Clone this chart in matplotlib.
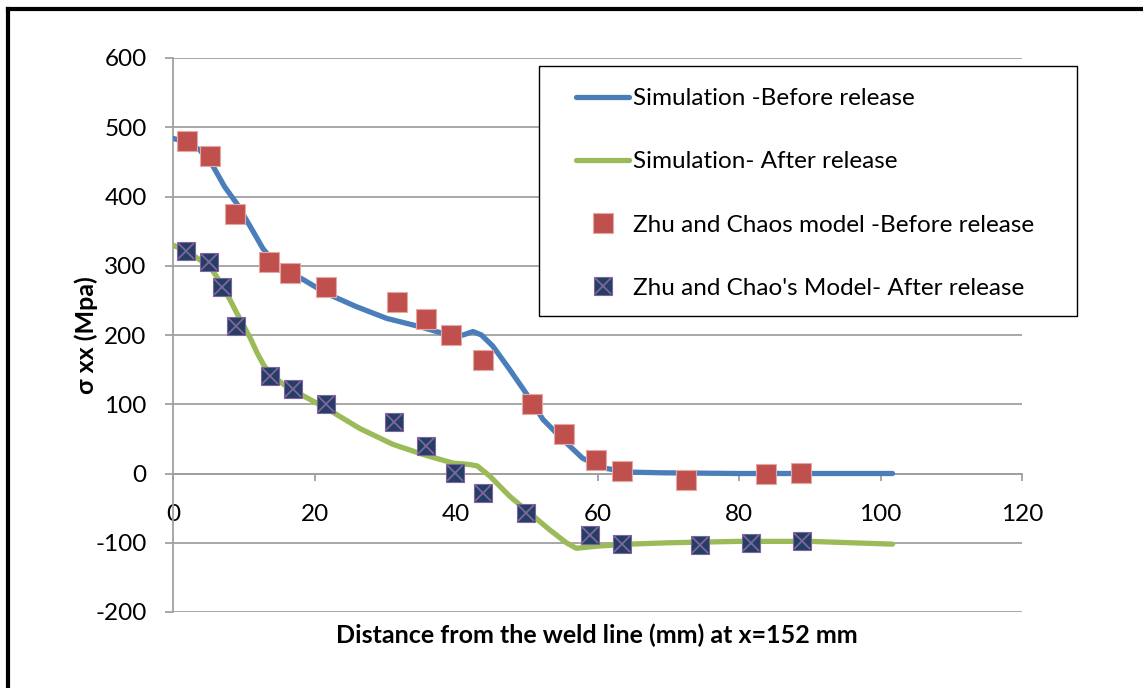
import numpy as np
import matplotlib
matplotlib.use('Agg')
import matplotlib.pyplot as plt
from matplotlib.lines import Line2D
from matplotlib.patches import Rectangle
from matplotlib.legend_handler import HandlerTuple

plt.rcParams['font.family'] = ['Lato', 'DejaVu Sans']
plt.rcParams['axes.unicode_minus'] = False

# simulated stress along the line, before and after release
sim_before_x = [0, 2, 3.8, 5.7, 7.3, 9.0, 10.9, 12.7, 13.8, 15.1, 16.7, 18.4, 21.7, 25.9,
                30.2, 34.9, 38.6, 41.0, 42.4, 43.6, 45.2, 47.6, 49.9, 52.3, 55.1, 57.9,
                60.8, 64.5, 69.2, 80, 90, 101.7]
sim_before_y = [484, 478, 467, 443, 414, 390, 357, 325, 311, 299, 289, 280, 260, 241,
                224, 212, 201, 200, 205, 200, 184, 150, 116, 78, 49, 22,
                8, 2, 1, 0, 0, 0]

sim_after_x = [0, 2.4, 5.2, 7.1, 9.0, 10.0, 10.9, 11.9, 12.8, 13.7, 15.3, 17.0, 21.7,
               26.4, 31.1, 35.8, 39.6, 41.9, 43.0, 44.8, 47.6, 50.4, 53.2, 55.6, 57.0,
               59.8, 64.5, 70.2, 80, 90, 101.7]
sim_after_y = [330, 318, 299, 270, 232, 213, 196, 174, 157, 145, 131, 120, 94,
               65, 42, 26, 15, 13, 11, -4, -33, -57, -81, -100, -108,
               -105, -102, -100, -98, -98, -102]

# Zhu and Chao model points
model_before_x = [2.0, 5.3, 8.8, 13.6, 16.5, 21.6, 31.6, 35.7, 39.3, 43.8, 50.8, 55.2,
                  59.8, 63.5, 72.5, 83.8, 88.7]
model_before_y = [480, 459, 375, 306, 290, 269, 247, 223, 200, 164, 100, 57,
                  19, 3, -9, -1, 1]

model_after_x = [1.8, 5.1, 6.9, 8.9, 13.7, 17.0, 21.6, 31.3, 35.8, 39.8, 43.8, 49.9,
                 58.9, 63.4, 74.5, 81.7, 88.9]
model_after_y = [322, 305, 270, 213, 141, 122, 101, 74, 39, 1, -28, -57,
                 -89, -102, -103, -100, -97]

labels = ['Simulation -Before release', 'Simulation- After release',
          'Zhu and Chaos model -Before release', "Zhu and Chao's Model- After release"]

W, H = 1143, 688
fig = plt.figure(figsize=(W / 100, H / 100), dpi=100)
ax = fig.add_axes([173 / W, 1 - 612 / H, (1022 - 173) / W, (612 - 58) / H])

grid_c = '#a0a0a0'
l1, = ax.plot(sim_before_x, sim_before_y, color='#4a7ebb', lw=3.8,
              solid_capstyle='round', solid_joinstyle='round', zorder=3)
l2, = ax.plot(sim_after_x, sim_after_y, color='#9bbb59', lw=3.8,
              solid_capstyle='round', solid_joinstyle='round', zorder=3)
m1, = ax.plot(model_before_x, model_before_y, ls='none', marker='s', ms=14,
              mfc='#c0504d', mec='#e6a6a4', mew=0.8, zorder=4)
m2, = ax.plot(model_after_x, model_after_y, ls='none', marker='s', ms=13,
              mfc='#233f61', mec='#8064a2', mew=0.8, zorder=4)
m2x, = ax.plot(model_after_x, model_after_y, ls='none', marker='x', ms=12,
               mec='#8064a2', mew=1.3, zorder=5)

ax.set_xlim(0, 120)
ax.set_ylim(-200, 600)
ax.set_xticks(np.arange(0, 121, 20))
ax.set_yticks(np.arange(-200, 601, 100))

for s in ['top', 'right']:
    ax.spines[s].set_visible(False)
ax.spines['bottom'].set_position(('data', 0))
ax.spines['bottom'].set_color(grid_c)
ax.spines['left'].set_color(grid_c)
ax.spines['bottom'].set_linewidth(1.3)
ax.spines['left'].set_linewidth(1.3)
ax.grid(axis='y', color=grid_c, lw=1.3)
ax.set_axisbelow(True)

ax.tick_params(axis='x', direction='out', length=5, width=1.3, color=grid_c,
               pad=17, labelsize=17.5)
ax.tick_params(axis='y', direction='out', length=6, width=1.3, color=grid_c,
               pad=13, labelsize=17.5)

fig.text(597 / W, 1 - 635 / H, 'Distance from the weld line (mm) at x=152 mm',
         ha='center', va='center', fontsize=18, fontweight='bold')
fig.text(86 / W, 1 - 335 / H, 'σ xx (Mpa)', rotation=90, ha='center', va='center',
         fontsize=18, fontweight='bold')

# legend box
fig.patches.append(Rectangle((539 / W, 1 - 316 / H), (1077 - 539) / W, (316 - 66) / H,
                             transform=fig.transFigure, facecolor='white',
                             edgecolor='black', lw=1.0, zorder=5))
leg = fig.legend([l1, l2, m1, (m2, m2x)], labels, loc='upper left',
                 bbox_to_anchor=(576 / W, 1 - 88 / H), frameon=False, fontsize=17.5,
                 handlelength=2.2, handletextpad=0.15, labelspacing=1.74, borderpad=0,
                 borderaxespad=0,
                 handler_map={tuple: HandlerTuple(ndivide=1, pad=0)})
leg.set_zorder(6)

# outer frame
fig.add_artist(Line2D([8 / W, 8 / W], [0, 1 - 9 / H], transform=fig.transFigure,
                      color='black', lw=3, solid_capstyle='projecting'))
fig.add_artist(Line2D([8 / W, 1], [1 - 9 / H, 1 - 9 / H], transform=fig.transFigure,
                      color='black', lw=3, solid_capstyle='projecting'))

fig.savefig('out.png', dpi=100, facecolor='white')
